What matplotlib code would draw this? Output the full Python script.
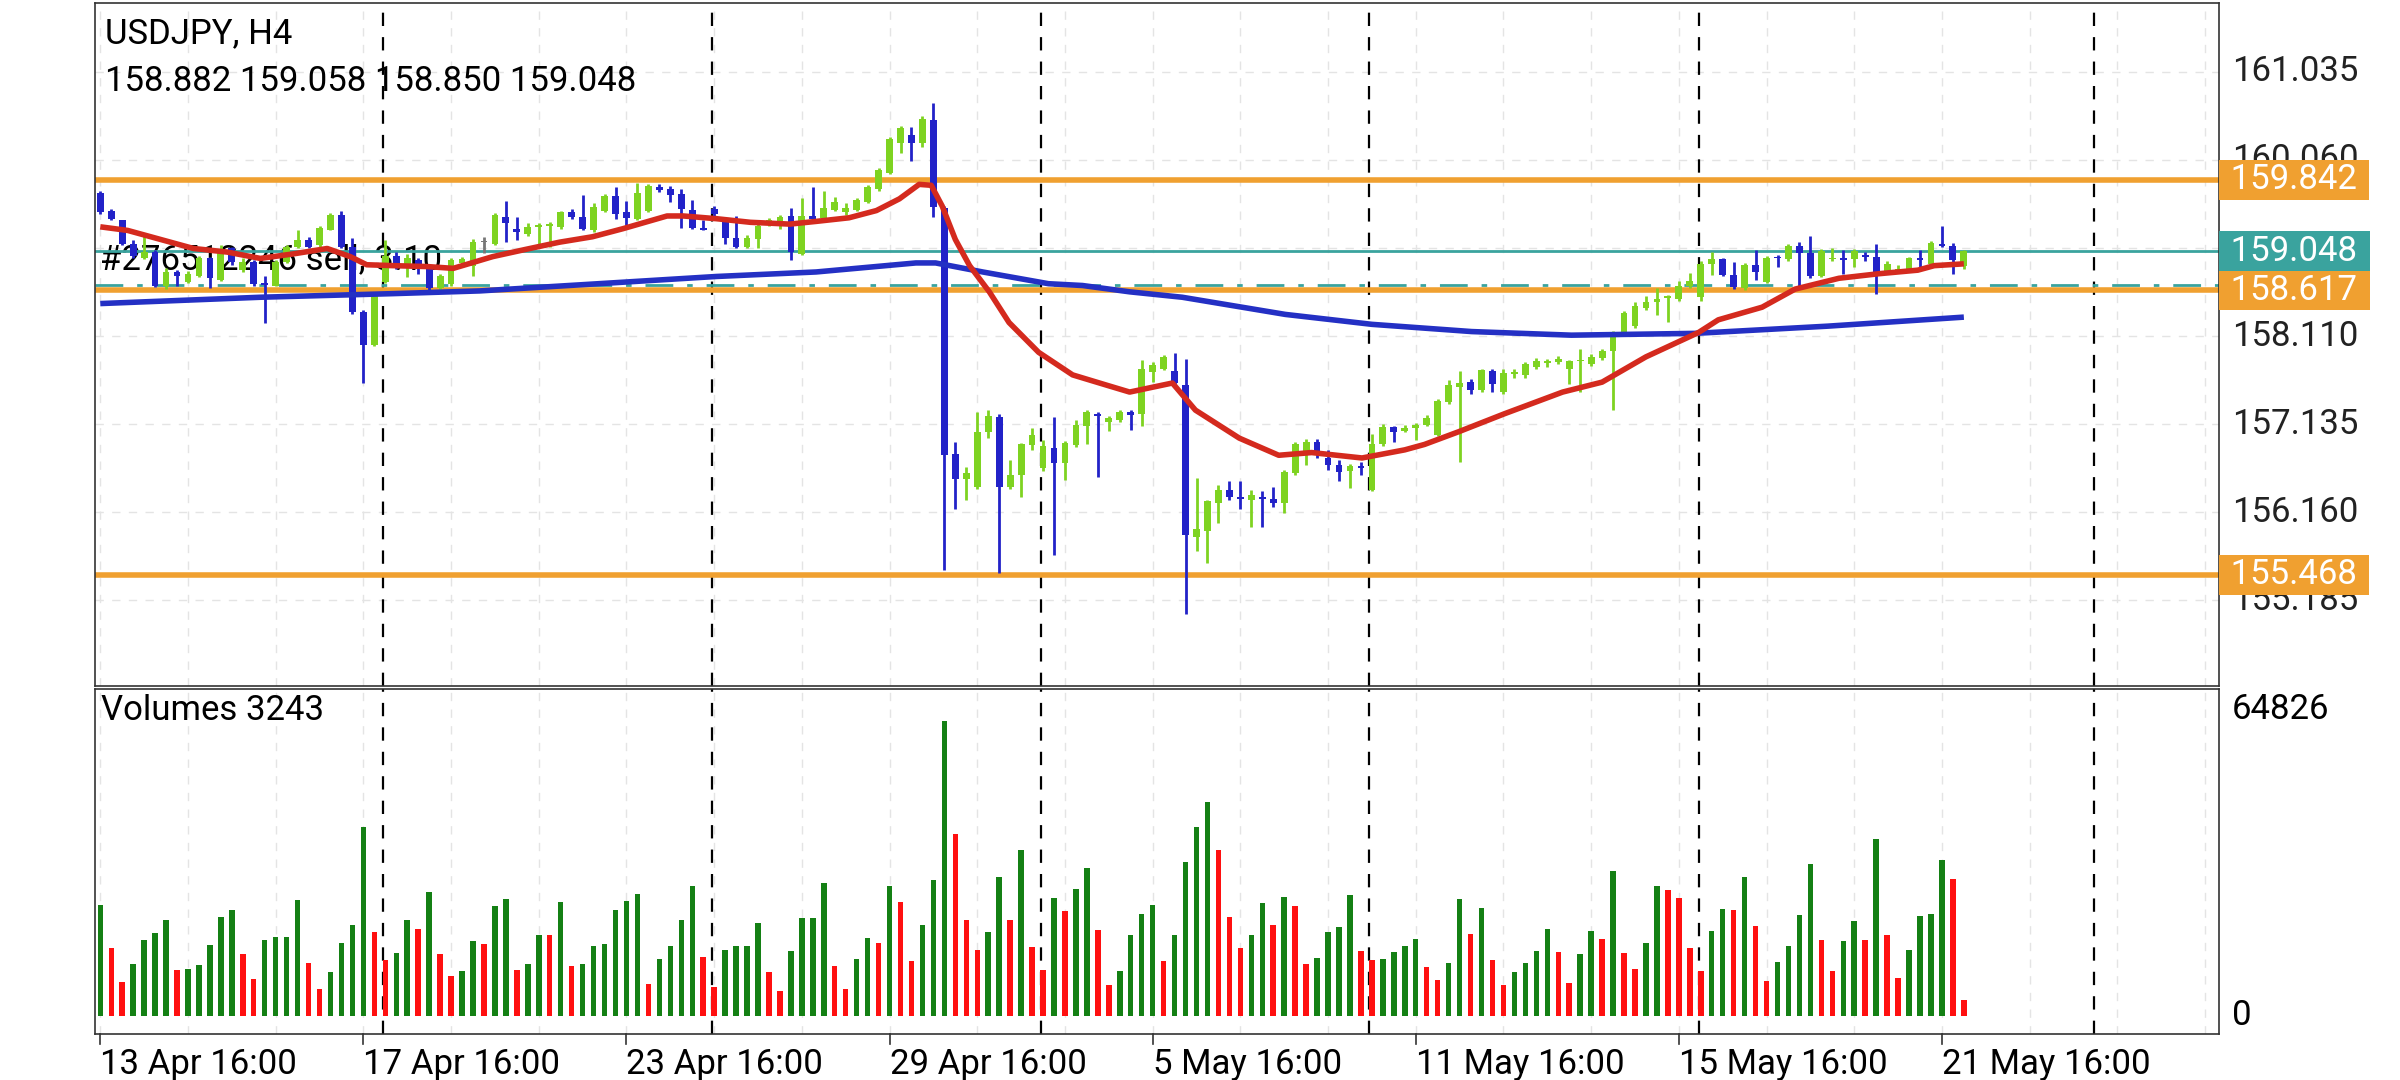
import matplotlib
matplotlib.use("Agg")
import matplotlib.pyplot as plt
import matplotlib.transforms as mtransforms
import numpy as np

plt.rcParams['font.family'] = ['Roboto', 'DejaVu Sans']

symbol_title = "USDJPY, H4"
ohlc_header = "158.882 159.058 158.850 159.048"
trade_label = "#276512246 sell, 3.10"

opens = [159.70,159.50,159.39,159.13,158.97,159.04,158.67,158.82,158.71,158.78,
         158.97,158.73,159.08,158.84,158.93,158.70,158.67,158.93,159.10,159.17,
         159.12,159.29,159.45,159.10,158.38,158.01,158.71,159.00,158.86,158.95,
         158.86,158.64,158.69,158.92,158.89,159.15,159.13,159.43,159.30,159.24,
         159.32,159.33,159.32,159.48,159.43,159.28,159.50,159.66,159.48,159.41,
         159.50,159.76,159.74,159.68,159.51,159.31,159.52,159.39,159.20,159.10,
         159.19,159.35,159.36,159.44,159.02,159.44,159.42,159.51,159.48,159.51,
         159.59,159.74,159.92,160.25,160.34,160.25,160.50,159.53,156.80,156.53,
         156.44,157.05,157.21,156.44,156.57,156.90,156.65,156.87,156.70,156.90,
         157.11,157.25,157.16,157.18,157.27,157.25,157.71,157.75,157.72,157.57,
         155.89,155.95,156.26,156.41,156.33,156.30,156.33,156.31,156.26,156.59,
         156.83,156.94,156.76,156.68,156.62,156.67,156.41,156.91,157.10,157.06,
         157.09,157.13,157.02,157.38,157.55,157.60,157.51,157.72,157.49,157.69,
         157.68,157.77,157.81,157.82,157.75,157.83,157.80,157.87,157.94,158.16,
         158.22,158.42,158.49,158.53,158.52,158.67,158.54,158.91,158.96,158.79,
         158.64,158.90,158.71,158.99,158.96,159.11,159.03,158.78,158.96,158.97,
         158.96,159.01,158.99,158.82,158.83,158.84,158.97,158.91,159.13,159.11,
         158.882]
highs = [159.72,159.52,159.40,159.17,159.23,159.06,158.86,158.84,158.83,159.00,
         158.99,159.12,159.10,158.98,158.95,158.78,158.95,159.12,159.28,159.21,
         159.33,159.47,159.50,159.20,158.40,158.58,159.17,159.04,159.02,158.98,
         158.88,158.80,158.97,158.99,159.19,159.21,159.47,159.61,159.43,159.36,
         159.36,159.37,159.50,159.52,159.67,159.58,159.68,159.76,159.61,159.81,
         159.79,159.79,159.77,159.74,159.62,159.39,159.55,159.43,159.44,159.23,
         159.35,159.42,159.45,159.53,159.64,159.76,159.72,159.65,159.58,159.64,
         159.78,159.97,160.31,160.44,160.42,160.55,160.69,159.55,156.94,156.66,
         157.27,157.29,157.25,156.74,156.93,157.09,156.96,157.21,156.95,157.18,
         157.29,157.27,157.22,157.29,157.29,157.84,157.82,157.90,157.92,157.86,
         156.54,156.30,156.46,156.50,156.50,156.41,156.39,156.44,156.63,156.94,
         156.97,156.97,156.85,156.74,156.69,156.72,157.03,157.14,157.11,157.13,
         157.15,157.24,157.41,157.62,157.72,157.64,157.75,157.74,157.74,157.75,
         157.82,157.87,157.86,157.89,157.85,157.97,157.91,157.97,158.17,158.39,
         158.49,158.55,158.64,158.56,158.72,158.81,158.94,159.04,158.98,158.93,
         158.92,159.06,159.00,159.01,159.13,159.15,159.22,159.07,159.08,159.06,
         159.07,159.04,159.13,158.94,158.90,158.99,159.06,159.16,159.33,159.14,
         159.058]
lows = [159.46,159.40,159.12,158.98,158.96,158.65,158.63,158.67,158.70,158.76,
        158.64,158.72,158.90,158.82,158.67,158.25,158.66,158.92,159.08,159.08,
        159.10,159.28,159.08,158.36,157.59,158.00,158.70,158.85,158.76,158.80,
        158.58,158.62,158.67,158.90,158.78,159.03,159.12,159.15,159.17,159.22,
        159.10,159.10,159.30,159.41,159.28,159.26,159.48,159.41,159.31,159.40,
        159.48,159.71,159.59,159.31,159.30,159.28,159.44,159.13,159.09,159.08,
        159.09,159.33,159.30,158.95,159.01,159.40,159.40,159.49,159.45,159.50,
        159.58,159.72,159.91,160.14,160.05,160.20,159.43,155.52,156.20,156.30,
        156.42,156.98,155.49,156.42,156.33,156.85,156.62,155.69,156.52,156.88,
        156.92,156.55,157.06,157.16,157.07,157.11,157.60,157.73,157.57,155.03,
        155.73,155.60,156.04,156.30,156.19,156.00,156.00,156.22,156.15,156.57,
        156.68,156.76,156.63,156.50,156.43,156.57,156.39,156.89,156.94,157.05,
        156.96,157.11,157.00,157.36,156.72,157.47,157.49,157.49,157.47,157.65,
        157.65,157.74,157.77,157.80,157.58,157.49,157.78,157.85,157.29,158.14,
        158.20,158.40,158.34,158.27,158.50,158.64,158.50,158.79,158.77,158.63,
        158.62,158.73,158.70,158.87,158.94,158.67,158.75,158.76,158.94,158.80,
        158.87,158.94,158.58,158.80,158.82,158.82,158.87,158.89,159.10,158.80,
        158.850]
closes = [159.48,159.41,159.13,159.00,159.04,158.67,158.82,158.78,158.80,158.97,
          158.75,159.06,158.93,158.93,158.69,158.68,158.93,159.10,159.17,159.10,
          159.31,159.45,159.10,158.38,158.01,158.56,159.00,158.89,158.97,158.86,
          158.64,158.78,158.95,158.96,159.15,159.15,159.45,159.36,159.26,159.32,
          159.34,159.35,159.48,159.43,159.30,159.54,159.66,159.46,159.42,159.70,
          159.77,159.73,159.67,159.52,159.31,159.29,159.46,159.20,159.10,159.20,
          159.33,159.39,159.43,159.04,159.44,159.41,159.53,159.59,159.53,159.62,
          159.76,159.95,160.29,160.41,160.25,160.51,159.54,156.79,156.53,156.59,
          157.05,157.23,156.44,156.57,156.91,157.02,156.89,156.70,156.93,157.12,
          157.27,157.22,157.20,157.27,157.24,157.75,157.79,157.88,157.59,155.91,
          155.97,156.28,156.41,156.33,156.31,156.35,156.31,156.26,156.61,156.91,
          156.94,156.84,156.68,156.61,156.67,156.65,156.91,157.10,157.05,157.09,
          157.13,157.20,157.39,157.57,157.59,157.51,157.73,157.58,157.70,157.71,
          157.80,157.83,157.83,157.86,157.83,157.85,157.88,157.95,158.10,158.37,
          158.44,158.49,158.52,158.55,158.67,158.72,158.91,158.96,158.79,158.65,
          158.90,158.82,158.98,158.97,159.11,159.03,158.78,159.05,158.97,158.95,
          159.05,158.99,158.82,158.91,158.85,158.97,158.95,159.14,159.11,158.95,
          159.048]

volumes = [23480,14270,7140,10940,15940,17480,20340,9740,9870,10670,
           14940,20880,22340,12940,7740,16070,16540,16610,24480,11140,
           5670,9140,15340,19140,39950,17740,11670,13270,20140,18340,
           26150,12940,8340,9340,15870,15140,23280,24680,9740,10940,
           17140,17010,24150,10470,10940,14740,15070,22340,24350,25680,
           6670,11940,14740,20340,27350,12340,6140,13870,14740,14810,
           19540,9140,5140,13740,20680,20740,28150,10470,5540,11940,
           16340,15470,27480,24150,11540,19140,28680,62300,38490,20340,
           13940,17740,29350,20340,35080,14470,9600,24880,22140,26880,
           31350,18080,6470,9470,17080,21480,23480,11470,17080,32480,
           39890,45290,35080,20880,14270,17080,23880,19280,25080,23280,
           10870,12270,17680,18680,25480,13670,11870,12070,13470,14670,
           16270,10270,7470,11070,24680,17280,22880,11670,6470,9270,
           11070,13670,18280,13470,6870,13070,17880,16270,30680,13270,
           9870,15470,27480,26680,24880,14270,9470,17880,22480,22280,
           29280,18880,7270,11270,14670,21280,32080,16070,9470,15870,
           20080,16070,37290,17080,7870,13870,21080,21480,32880,28880,
           3243]

ma_red_bars = [0, 2.5, 5.5, 8.5, 11.6, 14.6, 17.6, 20.7, 22.8, 24.3, 26.7, 29.8, 32.2,
               35.8, 38.8, 41.9, 44.9, 47.7, 51.7, 53.2, 56.2, 59.3, 62.9, 65.3, 68.3,
               70.8, 72.9, 74.7, 75.8, 76.8, 78.0, 79.3, 81.1, 82.9, 85.6, 88.7, 91.7,
               93.9, 97.8, 99.9, 103.9, 107.5, 110.5, 115.1, 119.0, 120.8, 123.9, 128.1,
               133.4, 137.0, 141.0, 145.8, 147.6, 151.6, 154.6, 158.6, 162.2, 165.8,
               167.3, 170.0]
ma_red_vals = [159.32, 159.28, 159.18, 159.08, 159.04, 158.97, 159.02, 159.08, 158.99,
               158.90, 158.89, 158.88, 158.86, 158.99, 159.07, 159.15, 159.21, 159.30,
               159.44, 159.44, 159.41, 159.37, 159.35, 159.38, 159.42, 159.50, 159.63,
               159.79, 159.78, 159.55, 159.18, 158.89, 158.60, 158.26, 157.93, 157.68,
               157.57, 157.49, 157.59, 157.29, 156.98, 156.79, 156.82, 156.76, 156.85,
               156.91, 157.05, 157.25, 157.49, 157.60, 157.88, 158.15, 158.29, 158.43,
               158.63, 158.75, 158.80, 158.84, 158.89, 158.91]
ma_blue_bars = [0, 14.6, 26.7, 34.6, 44.1, 56.2, 65.3, 74.4, 76.2, 80.5, 86.5, 89.6,
                93.9, 98.7, 108.1, 116.0, 125.1, 134.2, 145.5, 157.6, 170.0]
ma_blue_vals = [158.47, 158.54, 158.58, 158.61, 158.68, 158.77, 158.82, 158.92, 158.92,
                158.82, 158.69, 158.67, 158.60, 158.54, 158.35, 158.24, 158.16, 158.12,
                158.14, 158.22, 158.32]

levels_orange = [159.842, 158.617, 155.468]
level_bid = 159.048
level_trade = 158.68
price_ticks = [161.035, 160.060, 158.110, 157.135, 156.160, 155.185]
vol_max_label = 64826
date_bars = [0, 24, 48, 72, 96, 120, 144, 168]
date_labels = ["13 Apr 16:00", "17 Apr 16:00", "23 Apr 16:00", "29 Apr 16:00",
               "5 May 16:00", "11 May 16:00", "15 May 16:00", "21 May 16:00"]
week_sep_bars = [25.8, 55.8, 85.8, 115.7, 145.8, 181.9]

GREEN_C = "#7ED321"
BLUE_C = "#2222C8"
ORANGE = "#F0A030"
TEAL = "#3AA39E"
FS = 25

fig = plt.figure(figsize=(24, 10.8), dpi=100)
ax = fig.add_axes([0.0395, 0.3645, 0.8852, 0.633])
axv = fig.add_axes([0.0395, 0.0426, 0.8852, 0.319], sharex=ax)
xmin, xmax = -0.5, 193.3
n = len(closes)
x = np.arange(n)

for a in (ax, axv):
    a.set_xlim(xmin, xmax)
    for s in a.spines.values():
        s.set_color("#333333")
        s.set_linewidth(1.2)
    a.tick_params(left=False, labelleft=False, right=False, labelright=False,
                  bottom=False, labelbottom=False)
    for gb in range(0, 194, 8):
        a.axvline(gb, color="#e4e4e4", lw=1, ls=(0, (6, 6)), zorder=0)
    for wb in week_sep_bars:
        a.axvline(wb, color="black", lw=1.6, ls=(0, (6, 5)), zorder=1)

ax.set_ylim(154.231, 161.802)
for t in price_ticks + [159.085]:
    ax.axhline(t, color="#e4e4e4", lw=1, ls=(0, (6, 6)), zorder=0)

ax.text(0.0, 158.96, trade_label, fontsize=FS, color="black", va="center", ha="left", zorder=1.5)

for lv in levels_orange:
    ax.axhline(lv, color=ORANGE, lw=4, zorder=2)
ax.axhline(level_bid, color=TEAL, lw=2, zorder=2)
ax.axhline(level_trade, color=TEAL, lw=2, ls=(0, (10, 5, 2, 5)), zorder=2)

o = np.array(opens); c = np.array(closes); h = np.array(highs); l = np.array(lows)
cols = [GREEN_C if cc > oo else (BLUE_C if cc < oo else "#777777") for oo, cc in zip(o, c)]
ax.vlines(x, l, h, colors=cols, lw=2, zorder=3)
bottoms = np.minimum(o, c)
heights = np.maximum(np.abs(c - o), 0.012)
ax.bar(x, heights, bottom=bottoms, width=0.62, color=cols, zorder=3, linewidth=0)

ax.plot(ma_blue_bars, ma_blue_vals, color="#2430C4", lw=4, zorder=4, solid_capstyle="butt")
ax.plot(ma_red_bars, ma_red_vals, color="#D42A1E", lw=4, zorder=4, solid_capstyle="butt")

ax.text(0.005, 0.955, symbol_title, transform=ax.transAxes, fontsize=FS, va="center", ha="left")
ax.text(0.005, 0.885, ohlc_header, transform=ax.transAxes, fontsize=FS, va="center", ha="left")

trans = mtransforms.blended_transform_factory(ax.transAxes, ax.transData)
for t in price_ticks:
    ax.text(1.006, t, f"{t:.3f}", transform=trans, fontsize=FS, va="center", ha="left",
            clip_on=False, color="#222222")
for lv in levels_orange:
    ax.text(1.0015, lv, f" {lv:.3f} ", transform=trans, fontsize=FS, va="center", ha="left",
            color="white", clip_on=False, zorder=10,
            bbox=dict(boxstyle="square,pad=0.1", fc=ORANGE, ec="none"))
ax.text(1.0015, level_bid, f" {level_bid:.3f} ", transform=trans, fontsize=FS, va="center",
        ha="left", color="white", clip_on=False, zorder=10,
        bbox=dict(boxstyle="square,pad=0.1", fc=TEAL, ec="none"))

v = np.array(volumes)
vcols = ["#148014"] + ["#148014" if v[i] >= v[i - 1] else "#FF1010" for i in range(1, n)]
axv.bar(x, v, width=0.5, color=vcols, linewidth=0, zorder=3)
axv.set_ylim(-3890, 69040)
axv.text(0.003, 0.94, f"Volumes {volumes[-1]}", transform=axv.transAxes, fontsize=FS,
         va="center", ha="left")
vtrans = mtransforms.blended_transform_factory(axv.transAxes, axv.transData)
axv.text(1.006, vol_max_label, str(vol_max_label), transform=vtrans, fontsize=FS,
         va="center", ha="left", clip_on=False)
axv.text(1.006, 0, "0", transform=vtrans, fontsize=FS, va="center", ha="left", clip_on=False)

dtrans = mtransforms.blended_transform_factory(axv.transData, axv.transAxes)
for b, lab in zip(date_bars, date_labels):
    axv.plot([b, b], [0, -0.03], color="#333333", lw=1.2, transform=dtrans, clip_on=False)
    axv.text(b, -0.09, lab, transform=dtrans, fontsize=FS, va="center", ha="left", clip_on=False)

fig.savefig("out.png", dpi=100)
